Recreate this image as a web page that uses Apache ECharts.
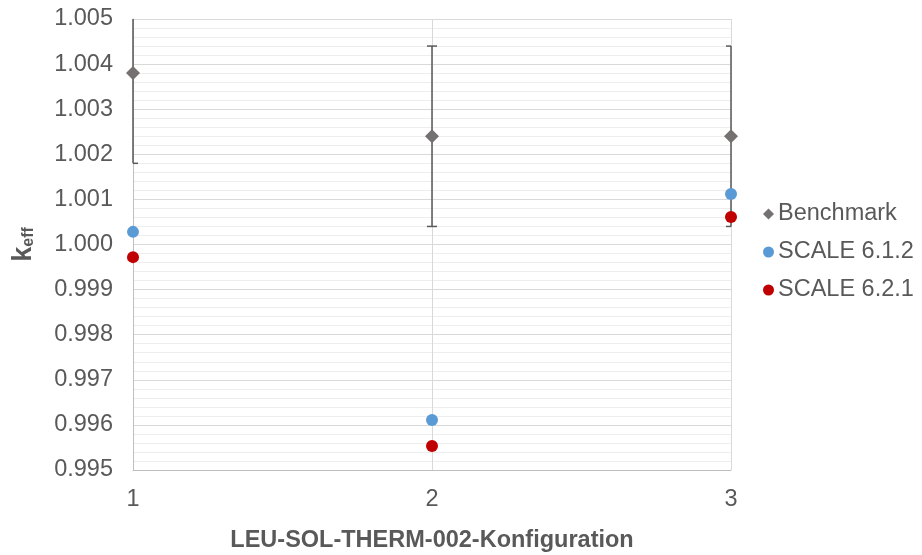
<!DOCTYPE html>
<html>
<head>
<meta charset="utf-8">
<script src="https://cdn.jsdelivr.net/npm/echarts@6/dist/echarts.min.js"></script>
<style>
  html, body { margin: 0; padding: 0; background: #fff; }
  #chart { width: 922px; height: 555px; }
</style>
</head>
<body>
<div id="chart"></div>
<script>
// Konfigurationen (x)
const configs = [1, 2, 3]
// Benchmark k_eff und Unsicherheit
const benchmark = [1.0038, 1.0024, 1.0024]
const benchmarkErr = [0.002, 0.002, 0.002]
// Rechenergebnisse
const scale612 = [1.00028, 0.99611, 1.00112]
const scale621 = [0.99972, 0.99553, 1.00061]

const font = 'Liberation Sans, Arial, sans-serif'
const textColor = '#595959'

let myChart = echarts.init(document.getElementById('chart'))

// Fehlerbalken als custom series, auf Plotbereich beschnitten
const errData = configs.map((c, i) => [c, benchmark[i] - benchmarkErr[i], benchmark[i] + benchmarkErr[i]])

function renderErr(params, api) {
  const cs = params.coordSys
  const x = api.value(0)
  const lo = api.coord([x, api.value(1)])
  const hi = api.coord([x, api.value(2)])
  const top = Math.max(hi[1], cs.y)
  const bottom = Math.min(lo[1], cs.y + cs.height)
  const capW = 5
  const style = { stroke: '#595959', lineWidth: 1.5 }
  const children = [{
    type: 'line',
    shape: { x1: lo[0], y1: top, x2: lo[0], y2: bottom },
    style: style
  }]
  const capL = Math.max(lo[0] - capW, cs.x)
  const capR = Math.min(lo[0] + capW, cs.x + cs.width)
  if (hi[1] >= cs.y) {
    children.push({ type: 'line', shape: { x1: capL, y1: hi[1], x2: capR, y2: hi[1] }, style: style })
  }
  if (lo[1] <= cs.y + cs.height) {
    children.push({ type: 'line', shape: { x1: capL, y1: lo[1], x2: capR, y2: lo[1] }, style: style })
  }
  return { type: 'group', children: children }
}

let option = {
  animation: false,
  backgroundColor: '#fff',
  grid: { left: 133, right: 191, top: 19, bottom: 85, containLabel: false, outerBoundsMode: 'none' },
  legend: {
    orient: 'vertical',
    left: 758,
    top: 197,
    itemGap: 14,
    itemWidth: 11,
    itemHeight: 11,
    textStyle: { fontFamily: font, fontSize: 23.5, color: textColor, padding: [0, 0, 0, -1] },
    data: [
      { name: 'Benchmark', icon: 'diamond' },
      { name: 'SCALE 6.1.2', icon: 'circle' },
      { name: 'SCALE 6.2.1', icon: 'circle' }
    ]
  },
  xAxis: {
    type: 'value',
    min: 1,
    max: 3,
    interval: 1,
    name: 'LEU-SOL-THERM-002-Konfiguration',
    nameLocation: 'middle',
    nameGap: 59,
    nameTextStyle: { fontFamily: font, fontSize: 23.5, fontWeight: 'bold', color: textColor },
    axisLine: { lineStyle: { color: '#bfbfbf', width: 1 } },
    axisTick: { show: false },
    axisLabel: { fontFamily: font, fontSize: 23.5, color: textColor, margin: 18 },
    splitLine: { show: true, lineStyle: { color: '#d9d9d9', width: 1 } }
  },
  yAxis: {
    type: 'value',
    min: 0.995,
    max: 1.005,
    interval: 0.001,
    name: '{k|k}{s|eff}',
    nameLocation: 'middle',
    nameRotate: 90,
    nameGap: 96,
    nameTextStyle: {
      rich: {
        k: { fontFamily: font, fontSize: 27, fontWeight: 'bold', color: textColor },
        s: { fontFamily: font, fontSize: 16, fontWeight: 'bold', color: textColor, verticalAlign: 'bottom', padding: [10, 0, 0, 0] }
      }
    },
    axisLine: { show: true, lineStyle: { color: '#bfbfbf', width: 1 } },
    axisTick: { show: false },
    axisLabel: {
      fontFamily: font, fontSize: 23.5, color: textColor, margin: 20,
      formatter: v => v.toFixed(3)
    },
    splitLine: { show: true, lineStyle: { color: '#d9d9d9', width: 1 } },
    minorTick: { show: false, splitNumber: 5 },
    minorSplitLine: { show: true, lineStyle: { color: '#ededed', width: 1 } }
  },
  series: [
    {
      type: 'custom',
      renderItem: renderErr,
      data: errData,
      z: 1,
      silent: true
    },
    {
      name: 'Benchmark',
      type: 'scatter',
      symbol: 'diamond',
      symbolSize: 14,
      itemStyle: { color: '#767171', opacity: 1 },
      data: configs.map((c, i) => [c, benchmark[i]]),
      z: 3
    },
    {
      name: 'SCALE 6.1.2',
      type: 'scatter',
      symbol: 'circle',
      symbolSize: 12,
      itemStyle: { color: '#5b9bd5', opacity: 1 },
      data: configs.map((c, i) => [c, scale612[i]]),
      z: 3
    },
    {
      name: 'SCALE 6.2.1',
      type: 'scatter',
      symbol: 'circle',
      symbolSize: 12,
      itemStyle: { color: '#c00000', opacity: 1 },
      data: configs.map((c, i) => [c, scale621[i]]),
      z: 3
    }
  ]
}

myChart.setOption(option)
</script>
</body>
</html>
